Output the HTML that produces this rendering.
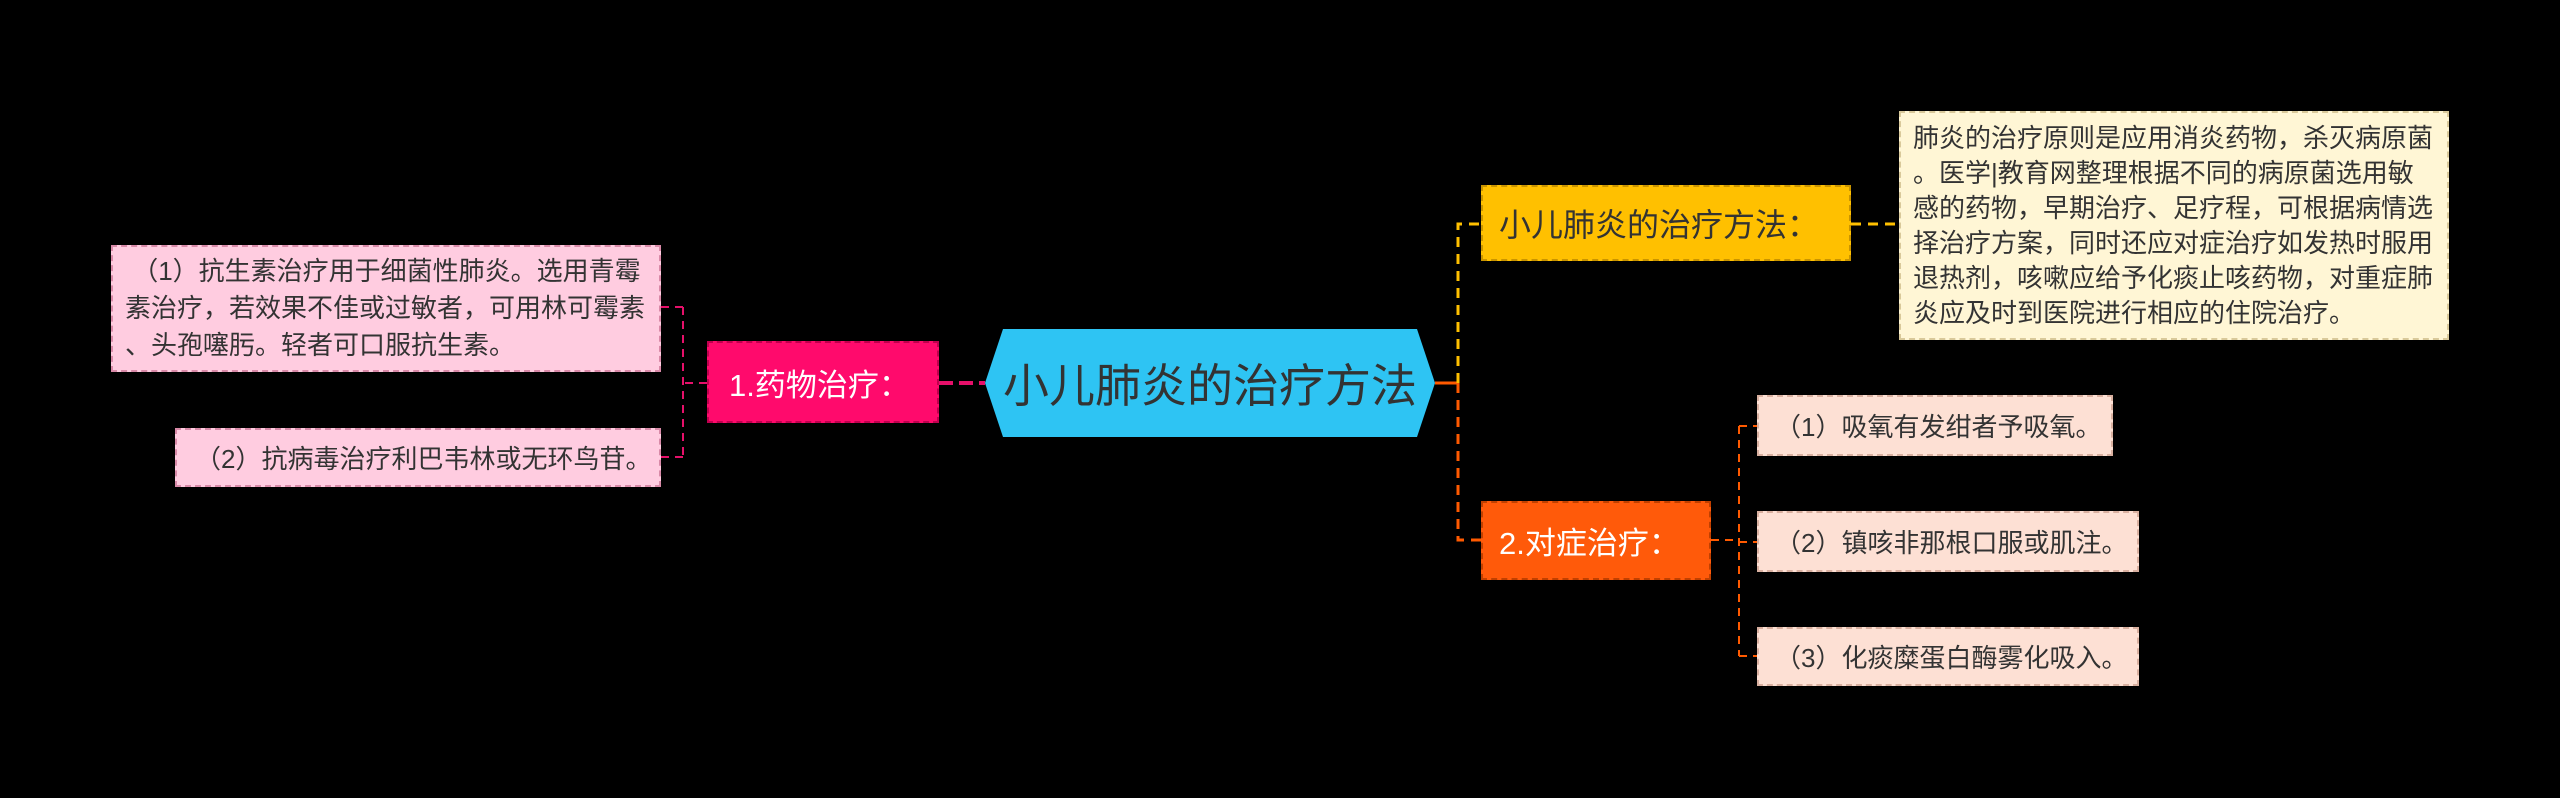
<!DOCTYPE html>
<html><head><meta charset="utf-8"><style>
body{margin:0;width:2560px;height:798px;background:#000;position:relative;overflow:hidden;font-family:"Liberation Sans","Noto Sans CJK SC",sans-serif}
.b{position:absolute;box-sizing:border-box;display:flex;align-items:center}
.w{line-break:anywhere;word-break:break-all}
</style></head><body>
<svg width="2560" height="798" style="position:absolute;left:0;top:0">
<polygon points="985,383 1003,329 1417,329 1435,383 1417,437 1003,437" fill="#2ec4f3"/>
<line x1="939" y1="383" x2="985" y2="383" stroke="#e6106a" stroke-width="4" stroke-dasharray="14,6"/>
<g stroke="#e6106a" stroke-width="2" stroke-dasharray="8,6" fill="none">
<path d="M707,383 H683 M683,307 V457 M661,307 H683 M661,457 H683"/>
</g>
<line x1="1435" y1="383" x2="1458" y2="383" stroke="#ff5a00" stroke-width="3"/>
<path d="M1458,383 V224 H1481 M1851,224 H1899" stroke="#ffc000" stroke-width="3" stroke-dasharray="10,7" fill="none"/>
<path d="M1458,383 V540 H1481" stroke="#ff5a00" stroke-width="3" stroke-dasharray="10,7" fill="none"/>
<path d="M1711,540 H1739 M1739,426 V656 M1739,426 H1757 M1739,542 H1757 M1739,656 H1757" stroke="#ff5a00" stroke-width="2" stroke-dasharray="8,6" fill="none"/>
</svg>
<div class="b" style="left:985px;top:329px;width:450px;height:108px;justify-content:center;font-size:46px;color:#333">小儿肺炎的治疗方法</div>
<div class="b" style="left:707px;top:341px;width:232px;height:82px;background:#ff0a6c;border:2px dashed #c0004e;color:#fff;font-size:31px;padding-left:20px;white-space:nowrap">1.药物治疗：</div>
<div class="b" style="left:111px;top:245px;width:550px;height:127px;background:#ffcce0;border:2px dashed #d98aa8;color:#333;font-size:26px;line-height:37px;padding:0 10px 0 12px"><div class="w">&nbsp;（1）抗生素治疗用于细菌性肺炎。选用青霉素治疗，若效果不佳或过敏者，可用林可霉素、头孢噻肟。轻者可口服抗生素。</div></div>
<div class="b" style="left:175px;top:428px;width:486px;height:59px;background:#ffcce0;border:2px dashed #d98aa8;color:#333;font-size:26px;padding-left:18px;white-space:nowrap">（2）抗病毒治疗利巴韦林或无环鸟苷。</div>
<div class="b" style="left:1481px;top:185px;width:370px;height:76px;background:#ffc000;border:2px dashed #c99400;color:#333;font-size:32px;padding-left:16px;white-space:nowrap">小儿肺炎的治疗方法：</div>
<div class="b" style="left:1899px;top:111px;width:550px;height:229px;background:#fff6d5;border:2px dashed #d9c99a;color:#333;font-size:26px;line-height:35px;padding:0 10px 0 12px"><div class="w">肺炎的治疗原则是应用消炎药物，杀灭病原菌。医学|教育网整理根据不同的病原菌选用敏感的药物，早期治疗、足疗程，可根据病情选择治疗方案，同时还应对症治疗如发热时服用退热剂，咳嗽应给予化痰止咳药物，对重症肺炎应及时到医院进行相应的住院治疗。</div></div>
<div class="b" style="left:1481px;top:501px;width:230px;height:79px;background:#ff5a0a;border:2px dashed #c04000;color:#fff;font-size:31px;padding-left:16px;white-space:nowrap">2.对症治疗：</div>
<div class="b" style="left:1757px;top:395px;width:356px;height:61px;background:#fde0d4;border:2px dashed #d9b0a0;color:#333;font-size:26px;padding-left:16px;white-space:nowrap">（1）吸氧有发绀者予吸氧。</div>
<div class="b" style="left:1757px;top:511px;width:382px;height:61px;background:#fde0d4;border:2px dashed #d9b0a0;color:#333;font-size:26px;padding-left:16px;white-space:nowrap">（2）镇咳非那根口服或肌注。</div>
<div class="b" style="left:1757px;top:627px;width:382px;height:59px;background:#fde0d4;border:2px dashed #d9b0a0;color:#333;font-size:26px;padding-left:16px;white-space:nowrap">（3）化痰糜蛋白酶雾化吸入。</div>
</body></html>
